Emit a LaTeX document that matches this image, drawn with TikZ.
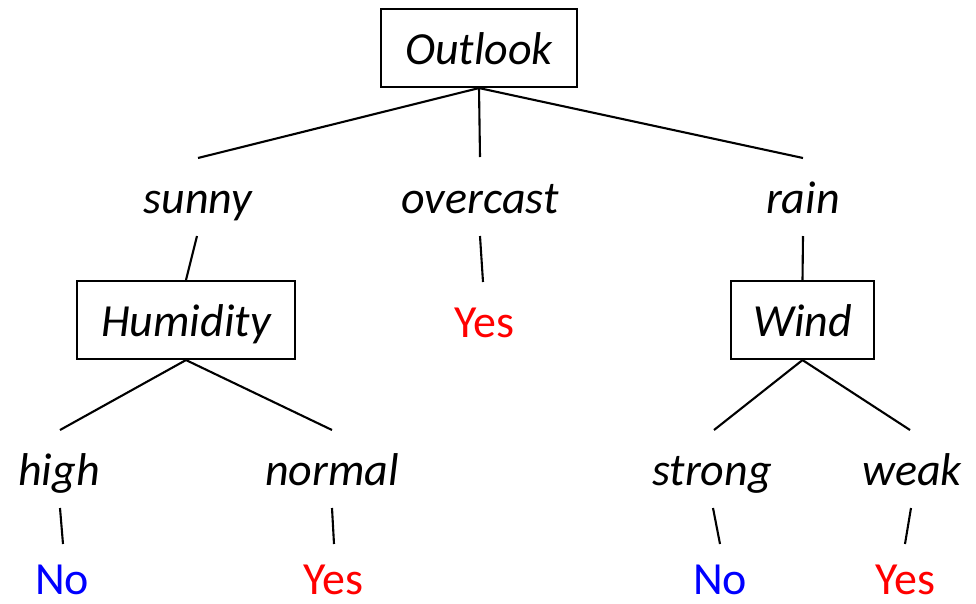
\documentclass[tikz,border=0pt]{standalone}
\usepackage{fontspec}
\setmainfont{Carlito}
\begin{document}
\begin{tikzpicture}[x=1pt,y=-1pt,
  every node/.style={font=\fontsize{46}{50}\selectfont, inner sep=0pt},
  attr/.style={draw, line width=2.1pt, font=\fontsize{46}{50}\selectfont\itshape,
               text height=32pt, text depth=0pt, minimum height=78pt},
  val/.style={anchor=base, font=\fontsize{46}{50}\selectfont\itshape},
  yes/.style={anchor=base, text depth=0pt, text=red},
  no/.style={anchor=base, text depth=0pt, text=blue},
  branch/.style={line width=2.1pt}]
\useasboundingbox (0,0) rectangle (976,603);

% attribute tests
\node[attr, minimum width=196pt] (outlook)  at (479,48)    {Outlook};
\node[attr, minimum width=218pt] (humidity) at (186,320)   {Humidity};
\node[attr, minimum width=143pt] (wind)     at (802.5,320) {Wind};

% attribute values
\node[val] (sunny)    at (198,213) {sunny};
\node[val] (overcast) at (480,213) {overcast};
\node[val] (rain)     at (803,213) {rain};
\node[val] (high)     at (59,485)  {high};
\node[val] (normal)   at (332,485) {normal};
\node[val] (strong)   at (712,485) {strong};
\node[val] (weak)     at (912,485) {weak};

% class labels
\node[yes] (yes1) at (484,337) {Yes};
\node[no]  (no1)  at (62,594)  {No};
\node[yes] (yes2) at (333,594) {Yes};
\node[no]  (no2)  at (720,594) {No};
\node[yes] (yes3) at (905,594) {Yes};

% branch end points
\coordinate (sunnyT) at (198,158);
\coordinate (overT)  at (480,157);
\coordinate (rainT)  at (803,158);
\coordinate (sunnyB) at (197,236);
\coordinate (overB)  at (480,236);
\coordinate (yes1T)  at (483,282);
\coordinate (rainB)  at (803,236);
\coordinate (highT)  at (60,430);
\coordinate (normT)  at (332,430);
\coordinate (strT)   at (714,430);
\coordinate (weakT)  at (910,430);
\coordinate (highB)  at (60,508);
\coordinate (no1T)   at (63,544);
\coordinate (normB)  at (332,508);
\coordinate (yes2T)  at (334,544);
\coordinate (strB)   at (713,508);
\coordinate (no2T)   at (720,544);
\coordinate (weakB)  at (911,508);
\coordinate (yes3T)  at (905,544);

\draw[branch] (sunnyT) -- (outlook.south) -- (rainT);
\draw[branch] (outlook.south) -- (overT);
\draw[branch] (sunnyB) -- (humidity.north);
\draw[branch] (overB) -- (yes1T);
\draw[branch] (rainB) -- (wind.north);
\draw[branch] (highT) -- (humidity.south) -- (normT);
\draw[branch] (strT) -- (wind.south) -- (weakT);
\draw[branch] (highB) -- (no1T);
\draw[branch] (normB) -- (yes2T);
\draw[branch] (strB) -- (no2T);
\draw[branch] (weakB) -- (yes3T);
\end{tikzpicture}
\end{document}
